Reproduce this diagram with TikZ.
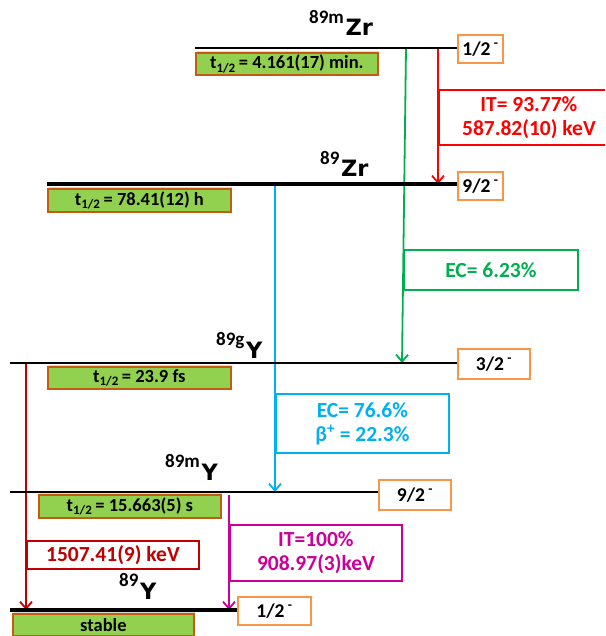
\documentclass[tikz,border=0pt]{standalone}
\usepackage{fontspec}
\setmainfont{Carlito}
\newfontfamily\nucfont{DejaVu Sans}
\usetikzlibrary{arrows.meta,shadows}
\definecolor{gfill}{HTML}{92D050}
\definecolor{gborder}{HTML}{C55A11}
\definecolor{sborder}{HTML}{F79646}
\definecolor{cred}{HTML}{FF0000}
\definecolor{cgreen}{HTML}{00B050}
\definecolor{cblue}{HTML}{00B0F0}
\definecolor{cdred}{HTML}{C00000}
\definecolor{cmag}{HTML}{CC0099}
\newcommand{\thalf}{t\textsubscript{1/2}}
\newcommand{\nuclide}[2]{\raisebox{12.5pt}{\fontsize{19}{21}\selectfont #1}\,{\nucfont\bfseries\fontsize{22.5}{24}\selectfont #2}}
\begin{document}
\begin{tikzpicture}[x=1pt,y=-1pt,
  every node/.style={font=\bfseries, inner sep=0pt},
  thinlevel/.style={line width=1.2pt, black},
  thicklevel/.style={line width=3.6pt, black},
  gbox/.style={draw=gborder, fill=gfill, line width=1.8pt, anchor=north west,
    drop shadow={shadow xshift=1.5pt, shadow yshift=1.5pt, opacity=0.3},
    font=\bfseries\fontsize{18.5}{20}\selectfont},
  sbox/.style={draw=sborder, fill=white, line width=1.8pt, anchor=west,
    font=\bfseries\fontsize{19.5}{21}\selectfont},
  nuc/.style={anchor=base west},
  dec/.style={line width=1.8pt, -{Straight Barb[length=7pt,width=12pt]}},
  decbox/.style={line width=1.8pt, fill=white, anchor=north west, align=center,
    font=\bfseries\fontsize{21.5}{24}\selectfont}]
\useasboundingbox (0,0) rectangle (605,636);
\clip (0,0) rectangle (605,636);

% ---------- levels ----------
\coordinate (mZrL) at (195,48);  \coordinate (mZrR) at (457,48);
\coordinate (ZrL) at (47,184);   \coordinate (ZrR) at (457,184);
\coordinate (gYL) at (10,363);   \coordinate (gYR) at (457,363);
\coordinate (mYL) at (10,492);   \coordinate (mYR) at (378,492);
\coordinate (YL) at (10,610);    \coordinate (YR) at (237,610);

% ---------- decay arrows ----------
\coordinate (itS) at (438,48);  \coordinate (itE) at (438,184);
\coordinate (ecS) at (406,48);  \coordinate (ecE) at (402,363);
\coordinate (bS) at (275,184);  \coordinate (bE) at (275,492);
\coordinate (gS) at (26,363);   \coordinate (gE) at (26,610);
\coordinate (mS) at (229,495);  \coordinate (mE) at (229,610);

\node[decbox, draw=cred, text=cred, minimum width=180, minimum height=55] (itbox) at (438,89)
  {IT= 93.77\%\\587.82(10) keV};
\node[decbox, draw=cgreen, text=cgreen, minimum width=174, minimum height=40] (ecbox) at (403,249)
  {EC= 6.23\%};
\node[decbox, draw=cblue, text=cblue, minimum width=173, minimum height=59] (bbox) at (275,393)
  {EC= 76.6\%\\β\textsuperscript{+} = 22.3\%};
\node[decbox, draw=cdred, text=cdred, minimum width=172, minimum height=28] (gbox) at (26,540)
  {1507.41(9) keV};
\node[decbox, draw=cmag, text=cmag, minimum width=172, minimum height=56] (mbox) at (229,524)
  {IT=100\%\\908.97(3)keV};

\draw[dec, cred] (itS) -- (itE);
\draw[dec, cgreen] (ecS) -- (ecE);
\draw[dec, cblue] (bS) -- (bE);
\draw[dec, cdred] (gS) -- (gE);
\draw[dec, cmag] (mS) -- (mE);

\draw[thinlevel] (mZrL) -- (mZrR);
\draw[thicklevel] (ZrL) -- (ZrR);
\draw[thinlevel] (gYL) -- (gYR);
\draw[thinlevel] (mYL) -- (mYR);
\draw[thicklevel] (YL) -- (YR);

% ---------- nuclide labels ----------
\node[nuc] (nmZr) at (309,36) {\nuclide{89m}{Zr}};
\node[nuc] (nZr) at (320,177) {\nuclide{89}{Zr}};
\node[nuc] (ngY) at (216,358) {\nuclide{89g}{Y}};
\node[nuc] (nmY) at (165,480) {\nuclide{89m}{Y}};
\node[nuc] (nY) at (119,599) {\nuclide{89}{Y}};

% ---------- spin boxes ----------
\node[sbox, minimum width=45, minimum height=28] (s1) at (457,49) {1/2\,\textsuperscript{-}};
\node[sbox, minimum width=45, minimum height=28] (s2) at (457,186) {9/2\,\textsuperscript{-}};
\node[sbox, minimum width=72, minimum height=30] (s3) at (457,364) {3/2\,\textsuperscript{-}};
\node[sbox, minimum width=72, minimum height=30] (s4) at (378,495) {9/2\,\textsuperscript{-}};
\node[sbox, minimum width=73, minimum height=28] (s5) at (237,611) {1/2\,\textsuperscript{-}};

% ---------- half-life boxes ----------
\node[gbox, minimum width=182, minimum height=22] (h1) at (195,52) {\thalf\,= 4.161(17) min.};
\node[gbox, minimum width=183, minimum height=23] (h2) at (47,188) {\thalf\,= 78.41(12) h};
\node[gbox, minimum width=183, minimum height=22] (h3) at (47,366) {\thalf\,= 23.9 fs};
\node[gbox, minimum width=182, minimum height=23] (h4) at (38,494) {\thalf\,= 15.663(5) s};
\node[gbox, minimum width=181, minimum height=22] (h5) at (12,613) {stable};
\end{tikzpicture}
\end{document}
